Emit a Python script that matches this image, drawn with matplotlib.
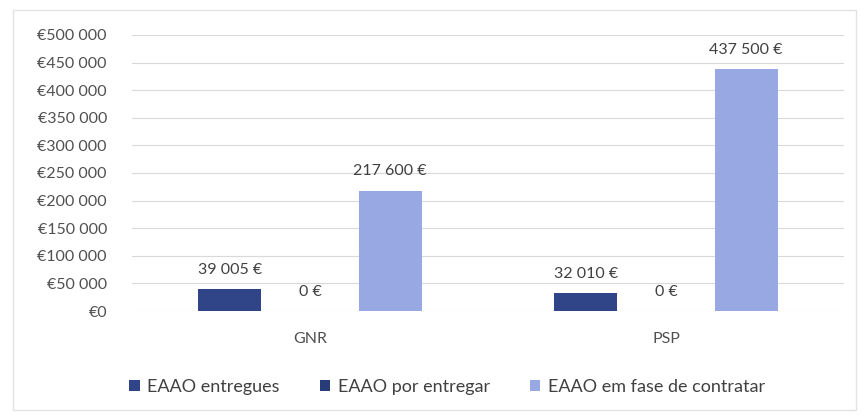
import numpy as np
import matplotlib.pyplot as plt
from matplotlib.patches import Rectangle

# dados
categorias = ["GNR", "PSP"]
series = ["EAAO entregues", "EAAO por entregar", "EAAO em fase de contratar"]
entregues = [39005, 32010]
por_entregar = [0, 0]
fase_contratar = [217600, 437500]
cores = ["#2f4587", "#283c7a", "#98a8e2"]

plt.rcParams['font.family'] = ['Lato', 'DejaVu Sans']

def fmt_euro(v):
    return f"{v:,.0f}".replace(",", " ")

fig = plt.figure(figsize=(8.65, 4.16), dpi=100)
ax = fig.add_axes([0.1526, 0.2524, 0.8231, 0.6635])

# moldura clara do gráfico
fig.patches.append(Rectangle((0.015, 0.015), 0.975, 0.96, transform=fig.transFigure,
                             fill=False, edgecolor="#e2e2e2", linewidth=1))

x = np.arange(len(categorias))
largura = 0.177
passo = 0.225
valores = [entregues, por_entregar, fase_contratar]

for i, (nome, vals, cor) in enumerate(zip(series, valores, cores)):
    pos = x + (i - 1) * passo
    ax.bar(pos, vals, width=largura, color=cor, label=nome, zorder=3)
    for px_, v in zip(pos, vals):
        ax.annotate(f"{fmt_euro(v)} €", (px_, v), xytext=(0, 14), textcoords="offset points",
                    ha="center", va="center", fontsize=11.5, color="#404040")

ax.set_xlim(-0.5, 1.5)
ax.set_ylim(0, 500000)
ax.set_yticks(np.arange(0, 500001, 50000))
ax.set_yticklabels([f"€{fmt_euro(v)}" for v in np.arange(0, 500001, 50000)])
ax.set_xticks(x)
ax.set_xticklabels(categorias)
ax.tick_params(axis="both", length=0, labelsize=11.5, colors="#505050")
ax.tick_params(axis="y", pad=18)
ax.tick_params(axis="x", pad=15)
ax.grid(axis="y", color="#d9d9d9", linewidth=0.8, zorder=0)
for s in ax.spines.values():
    s.set_visible(False)

ax.legend(loc="center", bbox_to_anchor=(0.4425, -0.2754), ncol=3, frameon=False,
          fontsize=13, handlelength=0.6, handleheight=0.6, handletextpad=0.4,
          columnspacing=2.2, labelcolor="#404040")

fig.savefig("out.png", dpi=100)
